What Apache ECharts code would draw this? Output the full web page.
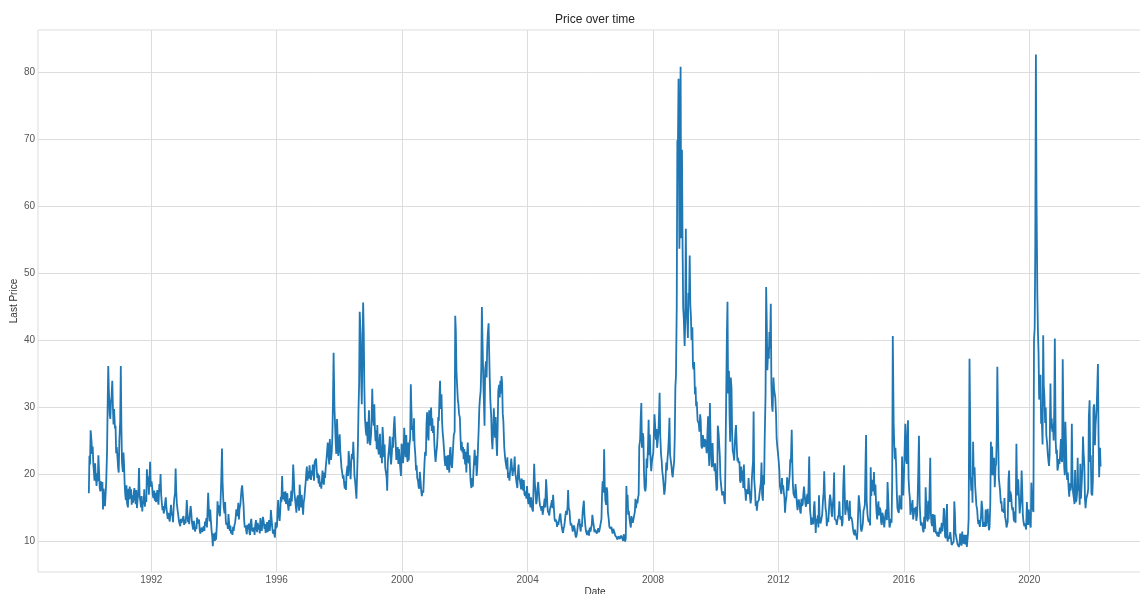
<!DOCTYPE html>
<html>
<head>
<meta charset="utf-8">
<title>Price over time</title>
<script src="https://cdn.jsdelivr.net/npm/echarts@6/dist/echarts.min.js"></script>
<style>
  html, body { margin: 0; padding: 0; background: #ffffff; }
  #chart { width: 1140px; height: 594px; }
</style>
</head>
<body>
<div id="chart"></div>
<script>
// Last price, four samples per month (days 4, 11, 18, 25), one array per year.
const px1990 = [17.2, 22.8, 21.5, 26.6, 25.0, 23.1, 24.2, 21.6, 20.4, 19.1, 21.7, 19.8, 18.3, 20.2, 19.0, 22.9,
                20.1, 18.0, 17.5, 19.0, 17.6, 18.9, 14.8, 17.9, 16.1, 15.3, 17.0, 18.8, 23.5, 30.4, 36.2, 32.5,
                29.0, 28.3, 30.8, 31.6, 34.0, 30.2, 27.5, 29.8, 26.9, 27.3, 23.2, 24.1, 22.5, 21.0, 20.3, 25.0];
const px1991 = [28.0, 36.2, 27.1, 21.8, 20.4, 23.3, 21.5, 18.6, 17.0, 16.2, 18.4, 15.7, 15.1, 17.9, 16.3, 18.2,
                16.4, 17.8, 15.5, 16.9, 15.8, 17.3, 18.0, 16.5, 15.6, 17.7, 15.0, 16.2, 17.5, 21.0, 16.9, 16.2,
                15.1, 16.8, 14.5, 16.0, 15.6, 17.8, 15.2, 16.4, 15.9, 20.8, 18.6, 19.7, 17.0, 19.5, 21.9, 18.2];
const px1992 = [19.0, 18.2, 17.0, 16.5, 17.6, 16.1, 17.3, 15.9, 16.8, 17.7, 16.2, 15.5, 18.6, 17.4, 20.1, 17.0,
                15.6, 14.7, 15.3, 14.2, 14.8, 15.9, 16.6, 15.2, 14.1, 13.4, 14.3, 13.5, 13.0, 14.4, 15.5, 14.2,
                13.8, 12.9, 15.1, 16.4, 17.2, 20.9, 17.6, 15.7, 14.6, 13.9, 13.1, 12.7, 12.3, 13.4, 12.8, 12.6];
const px1993 = [12.9, 13.8, 12.5, 13.3, 12.7, 14.0, 16.2, 14.5, 12.9, 13.7, 12.6, 14.1, 15.3, 14.4, 13.0, 12.4,
                11.8, 13.1, 12.6, 11.5, 12.2, 11.9, 13.6, 12.7, 12.5, 13.3, 11.8, 11.2, 11.0, 12.1, 11.4, 11.9,
                12.3, 11.6, 13.0, 12.4, 13.5, 12.1, 11.9, 17.3, 14.2, 13.0, 14.8, 13.2, 11.6, 10.8, 9.3, 11.2];
const px1994 = [11.0, 10.1, 11.4, 10.3, 12.7, 16.0, 14.3, 15.4, 14.1, 13.8, 15.9, 18.6, 23.9, 18.8, 16.5, 15.0,
                14.2, 15.9, 13.1, 12.5, 12.8, 11.9, 14.1, 12.9, 11.6, 12.4, 11.2, 11.7, 11.0, 12.2, 11.6, 12.3,
                12.9, 13.7, 14.8, 13.8, 14.5, 15.8, 13.3, 14.9, 15.5, 16.8, 17.9, 18.4, 16.7, 15.4, 13.2, 12.1];
const px1995 = [12.4, 11.6, 11.1, 12.5, 11.8, 12.7, 11.3, 11.0, 12.9, 13.4, 12.0, 11.5, 11.6, 12.1, 11.0, 12.3,
                13.2, 12.0, 11.4, 12.8, 11.8, 12.5, 11.2, 13.5, 12.1, 11.6, 12.9, 13.7, 12.8, 11.9, 12.6, 11.3,
                11.8, 12.9, 11.4, 12.5, 13.2, 11.6, 12.4, 14.7, 13.1, 12.0, 11.2, 11.8, 11.1, 10.6, 12.9, 12.0];
const px1996 = [12.3, 14.8, 16.2, 14.0, 13.1, 14.5, 16.7, 15.9, 19.8, 17.0, 16.3, 17.4, 16.0, 17.5, 15.6, 16.9,
                17.2, 15.4, 14.6, 15.8, 16.5, 15.3, 17.6, 16.0, 18.2, 21.5, 19.8, 17.4, 16.1, 15.2, 14.3, 16.4,
                16.9, 15.5, 14.6, 18.5, 16.2, 15.1, 17.0, 15.8, 14.0, 15.9, 16.4, 17.6, 18.9, 20.3, 21.2, 19.1];
const px1997 = [20.5, 19.4, 21.4, 20.1, 19.2, 20.6, 19.9, 21.5, 20.3, 19.1, 21.8, 22.1, 22.4, 20.8, 19.5, 20.2,
                18.7, 19.9, 18.2, 18.9, 17.9, 19.2, 20.6, 19.1, 18.5, 20.3, 19.5, 21.0, 22.4, 23.6, 24.8, 23.1,
                21.5, 25.3, 23.0, 22.2, 23.5, 25.9, 31.2, 38.2, 30.0, 27.5, 24.9, 23.1, 28.3, 25.6, 22.8, 24.0];
const px1998 = [26.0, 23.5, 22.3, 21.0, 20.1, 19.4, 19.9, 18.6, 17.9, 19.0, 17.7, 20.2, 21.3, 19.8, 23.5, 22.4,
                20.6, 19.3, 21.8, 23.1, 22.3, 24.9, 22.6, 19.8, 18.8, 17.6, 16.4, 19.7, 24.3, 29.8, 33.5, 44.3,
                41.0, 34.6, 30.5, 37.2, 45.7, 41.3, 33.0, 28.4, 26.5, 25.8, 27.9, 24.6, 27.2, 29.6, 25.1, 24.4];
const px1999 = [26.0, 28.5, 32.8, 29.0, 27.3, 30.5, 26.8, 25.0, 26.6, 23.8, 27.4, 24.2, 23.0, 24.8, 26.1, 22.5,
                24.3, 21.7, 27.1, 25.6, 22.6, 24.5, 21.0, 20.4, 19.6, 17.6, 21.8, 22.9, 24.3, 25.7, 22.8, 21.5,
                23.4, 25.6, 24.0, 26.8, 28.7, 26.5, 24.6, 22.2, 22.8, 24.1, 21.6, 23.8, 22.0, 20.9, 19.8, 24.6];
const px2000 = [24.2, 21.7, 23.0, 27.0, 24.0, 22.6, 25.9, 23.1, 21.9, 24.8, 22.1, 24.3, 25.5, 33.5, 29.8, 26.7,
                27.2, 25.0, 28.4, 24.5, 22.7, 20.6, 21.4, 19.5, 19.1, 18.2, 17.9, 20.4, 18.9, 17.5, 16.8, 17.6,
                17.3, 19.6, 21.8, 23.4, 22.8, 27.5, 29.3, 26.1, 25.1, 29.6, 27.3, 28.5, 30.0, 26.5, 28.4, 26.2];
const px2001 = [27.3, 24.6, 23.0, 21.9, 23.4, 24.2, 26.0, 28.6, 28.0, 31.4, 34.0, 29.8, 32.0, 27.9, 26.2, 25.3,
                23.6, 22.1, 21.3, 22.8, 21.4, 20.7, 22.9, 21.6, 20.3, 23.5, 24.1, 21.8, 21.0, 22.4, 24.3, 25.9,
                26.4, 43.7, 41.4, 35.5, 33.0, 31.2, 30.5, 29.1, 28.5, 25.6, 23.6, 24.9, 23.3, 24.1, 22.3, 23.8];
const px2002 = [21.5, 23.4, 20.3, 22.6, 24.8, 22.0, 21.7, 22.9, 20.1, 18.6, 18.0, 19.5, 18.2, 20.5, 22.0, 23.7,
                21.4, 22.8, 19.8, 20.9, 24.5, 26.8, 29.9, 31.3, 32.5, 36.0, 45.0, 40.2, 33.8, 30.6, 27.3, 35.6,
                36.9, 34.5, 39.0, 41.0, 42.6, 38.2, 34.1, 31.0, 28.5, 25.2, 23.8, 26.1, 29.9, 27.3, 25.5, 28.6];
const px2003 = [24.6, 22.8, 27.3, 32.5, 33.4, 31.5, 34.0, 32.1, 34.7, 33.6, 29.1, 28.0, 24.2, 23.0, 22.1, 21.5,
                20.8, 22.6, 19.5, 20.3, 19.1, 20.4, 21.3, 22.4, 20.9, 19.8, 21.0, 20.5, 22.7, 20.1, 19.6, 18.8,
                18.0, 20.3, 21.5, 19.6, 19.1, 18.5, 17.8, 19.4, 18.3, 17.6, 19.2, 17.1, 16.8, 17.5, 16.4, 18.3];
const px2004 = [16.3, 15.6, 17.2, 16.0, 15.1, 16.6, 15.4, 14.8, 14.5, 18.4, 21.6, 19.0, 17.0, 15.6, 16.1, 17.8,
                18.9, 17.5, 16.2, 15.4, 15.0, 14.6, 15.3, 14.0, 14.8, 15.6, 16.4, 15.1, 19.3, 17.8, 15.6, 14.5,
                14.2, 13.9, 14.8, 15.2, 15.6, 16.2, 15.0, 17.0, 14.8, 13.4, 13.0, 13.3, 12.9, 12.2, 13.0, 12.5];
const px2005 = [13.3, 13.9, 14.2, 13.0, 12.1, 11.6, 11.3, 12.0, 12.3, 13.1, 14.0, 14.6, 14.0, 15.2, 17.7, 15.0,
                14.6, 13.2, 12.4, 12.7, 12.1, 11.5, 12.0, 12.4, 11.9, 11.0, 10.6, 10.9, 11.8, 12.6, 12.9, 13.4,
                12.2, 11.5, 12.6, 12.2, 14.4, 15.3, 16.1, 14.0, 12.4, 11.6, 11.8, 11.0, 11.4, 11.7, 10.9, 12.1];
const px2006 = [11.5, 12.1, 12.5, 14.0, 12.9, 12.3, 11.4, 11.8, 11.6, 11.9, 11.2, 11.4, 12.0, 11.4, 11.7, 11.5,
                11.8, 13.4, 17.2, 19.0, 17.3, 23.8, 18.4, 16.2, 15.5, 18.1, 17.5, 14.4, 13.3, 12.2, 12.1, 11.9,
                12.2, 11.6, 11.2, 11.9, 11.8, 11.3, 10.9, 11.0, 10.6, 10.3, 10.2, 10.8, 10.7, 10.4, 10.2, 10.9];
const px2007 = [11.0, 10.4, 10.1, 11.1, 10.6, 10.0, 10.5, 18.3, 15.7, 17.0, 14.0, 14.6, 13.2, 12.6, 12.1, 13.8,
                13.1, 12.8, 13.0, 12.9, 14.5, 16.4, 15.0, 16.2, 15.7, 16.6, 17.0, 24.2, 25.2, 28.5, 30.7, 24.0,
                26.2, 25.5, 20.4, 18.0, 17.5, 18.4, 22.4, 21.0, 24.3, 28.2, 22.9, 26.0, 22.2, 20.5, 21.7, 22.5];
const px2008 = [23.2, 26.0, 29.0, 27.5, 25.2, 26.8, 24.0, 25.0, 26.3, 28.8, 32.2, 26.0, 23.0, 22.1, 20.5, 19.8,
                18.4, 17.0, 17.6, 18.9, 21.8, 20.6, 22.4, 23.4, 25.6, 28.5, 23.0, 22.9, 21.2, 20.1, 19.6, 20.7,
                22.0, 25.7, 33.1, 34.7, 45.1, 69.9, 69.3, 79.1, 53.7, 66.3, 80.9, 55.3, 68.5, 54.3, 44.9, 43.4];
const px2009 = [39.2, 42.8, 56.7, 44.8, 42.9, 40.4, 47.1, 46.3, 52.7, 45.4, 43.7, 40.1, 42.0, 36.2, 35.7, 36.8,
                32.0, 33.1, 30.2, 30.9, 28.1, 28.2, 27.6, 26.4, 29.0, 27.9, 24.3, 23.9, 25.9, 25.7, 24.1, 25.3,
                25.0, 24.2, 23.2, 25.6, 28.7, 23.1, 21.3, 30.7, 24.2, 22.3, 21.1, 24.7, 21.3, 21.6, 20.5, 21.7];
const px2010 = [19.2, 17.6, 18.0, 27.3, 26.1, 26.0, 22.7, 19.5, 18.5, 17.6, 16.9, 17.5, 17.2, 16.1, 15.6, 22.8,
                32.8, 40.9, 45.8, 32.1, 35.5, 28.8, 24.9, 34.5, 32.9, 26.1, 23.5, 23.2, 22.1, 24.5, 26.4, 27.4,
                23.8, 22.0, 22.5, 21.7, 22.0, 19.1, 18.8, 21.2, 19.1, 20.6, 18.0, 21.5, 18.0, 17.6, 16.1, 17.8];
const px2011 = [17.6, 17.1, 19.5, 18.0, 16.7, 15.7, 16.4, 19.2, 20.7, 21.9, 29.4, 19.3, 17.5, 15.3, 16.0, 14.6,
                15.9, 15.8, 16.2, 17.1, 18.1, 18.9, 21.8, 17.0, 16.1, 19.9, 18.5, 25.3, 32.0, 48.0, 42.7, 35.6,
                39.0, 37.3, 41.3, 38.8, 45.5, 33.4, 30.2, 29.4, 34.5, 32.8, 33.0, 31.5, 29.0, 25.4, 24.3, 23.4];
const px2012 = [22.0, 20.7, 18.3, 18.5, 17.1, 19.5, 17.8, 18.4, 17.3, 16.6, 14.3, 15.8, 16.7, 19.6, 18.5, 17.6,
                17.8, 19.9, 22.3, 21.8, 26.7, 21.7, 18.4, 17.1, 16.8, 16.5, 18.6, 17.5, 15.6, 14.7, 14.5, 16.3,
                15.5, 14.5, 14.2, 16.4, 15.3, 15.6, 17.1, 18.2, 18.2, 15.6, 15.2, 16.5, 17.1, 15.6, 18.5, 22.7];
const px2013 = [14.7, 13.8, 12.5, 13.6, 12.9, 12.6, 15.2, 16.0, 13.7, 11.3, 13.4, 12.7, 13.9, 12.1, 16.9, 13.6,
                12.7, 13.0, 13.5, 14.0, 16.3, 17.3, 20.5, 17.0, 14.9, 14.4, 12.3, 13.5, 12.9, 14.4, 16.1, 17.0,
                16.0, 14.2, 13.7, 15.4, 16.7, 20.3, 13.4, 13.2, 13.1, 12.5, 12.7, 13.7, 14.0, 16.0, 13.8, 13.3];
const px2014 = [13.8, 12.3, 12.9, 18.1, 21.4, 17.4, 14.0, 14.0, 14.1, 16.2, 15.0, 14.4, 13.1, 16.1, 13.4, 13.7,
                13.4, 12.9, 12.0, 11.4, 11.0, 11.8, 10.9, 11.2, 10.3, 11.8, 12.0, 16.9, 16.7, 14.3, 12.0, 11.5,
                12.1, 12.8, 14.6, 14.9, 15.5, 21.2, 25.9, 16.1, 14.0, 13.3, 12.9, 13.3, 12.4, 21.1, 16.8, 19.2];
const px2015 = [19.2, 17.5, 20.4, 16.9, 18.5, 15.8, 14.2, 13.3, 15.2, 16.0, 13.9, 15.1, 14.7, 12.9, 12.5, 14.3,
                13.8, 12.9, 12.1, 13.3, 14.5, 14.8, 13.2, 18.9, 16.1, 13.7, 12.1, 12.5, 13.4, 12.8, 19.1, 40.7,
                27.8, 24.4, 22.3, 24.0, 20.9, 17.2, 15.0, 14.6, 14.3, 16.9, 15.5, 15.1, 14.8, 22.7, 18.9, 16.9];
const px2016 = [20.7, 24.4, 27.6, 22.4, 21.6, 26.0, 28.1, 19.4, 17.4, 16.5, 14.0, 13.8, 14.1, 16.2, 13.3, 14.0,
                15.0, 14.4, 15.2, 13.1, 14.0, 17.0, 20.9, 25.8, 15.6, 13.5, 12.4, 12.9, 12.4, 11.7, 11.4, 13.7,
                11.9, 18.1, 15.5, 13.6, 13.0, 16.1, 13.3, 16.2, 22.5, 14.2, 12.8, 12.3, 14.1, 12.6, 11.4, 14.0];
const px2017 = [11.9, 11.2, 11.5, 10.8, 11.4, 10.7, 11.5, 12.1, 11.2, 11.3, 12.8, 11.5, 12.9, 15.0, 14.6, 10.8,
                10.5, 10.4, 15.6, 10.0, 10.7, 10.4, 10.9, 11.4, 11.2, 9.5, 9.4, 9.6, 10.0, 16.0, 14.3, 11.3,
                10.6, 10.5, 9.6, 9.7, 9.2, 9.6, 11.2, 10.0, 9.4, 11.5, 10.1, 9.7, 11.0, 9.6, 9.9, 11.0];
const px2018 = [9.2, 10.2, 11.3, 13.5, 37.3, 29.1, 19.5, 17.6, 19.6, 15.8, 24.9, 19.9, 21.1, 18.3, 16.9, 15.4,
                14.8, 13.4, 12.6, 13.2, 12.2, 12.0, 13.8, 16.1, 14.9, 12.2, 12.9, 13.0, 12.2, 14.8, 12.3, 12.5,
                14.9, 13.2, 11.7, 12.1, 15.7, 24.9, 19.9, 24.2, 19.9, 20.5, 22.5, 18.1, 21.2, 21.6, 25.6, 36.1];
const px2019 = [25.5, 19.5, 18.6, 17.7, 15.7, 16.0, 14.5, 14.8, 14.6, 14.3, 16.5, 13.7, 13.0, 12.1, 12.2, 13.0,
                19.3, 20.6, 15.9, 17.5, 16.9, 15.3, 14.7, 15.1, 13.3, 13.0, 14.5, 12.8, 24.6, 18.0, 16.9, 19.3,
                16.3, 14.2, 15.3, 16.2, 20.6, 17.6, 13.9, 13.0, 12.3, 12.7, 12.8, 11.8, 15.9, 13.6, 12.5, 14.8];
const px2020 = [13.8, 12.5, 12.1, 18.8, 15.2, 15.0, 14.4, 40.1, 41.9, 54.5, 82.7, 61.6, 46.8, 41.2, 38.2, 31.2,
                33.1, 34.9, 27.6, 28.6, 24.5, 40.8, 33.3, 31.8, 27.7, 30.0, 25.8, 25.0, 23.0, 22.1, 21.3, 22.9,
                33.6, 26.9, 28.4, 26.4, 27.6, 25.1, 29.4, 40.3, 24.9, 23.1, 23.7, 20.6, 21.3, 22.3, 21.6, 22.8];
const px2021 = [25.3, 22.2, 21.9, 37.2, 25.6, 21.2, 19.9, 27.9, 24.7, 20.7, 19.2, 20.3, 17.9, 16.7, 18.7, 17.6,
                18.3, 27.6, 20.7, 17.4, 16.4, 15.6, 20.7, 15.9, 16.2, 17.2, 22.5, 17.6, 18.0, 15.5, 21.6, 16.4,
                16.4, 20.9, 25.7, 23.3, 21.3, 16.3, 15.0, 16.3, 16.4, 17.2, 17.9, 28.6, 31.1, 21.9, 22.9, 17.2];
const px2022 = [16.9, 19.2, 29.9, 30.5, 24.4, 27.4, 28.7, 30.3, 33.3, 36.5, 25.7, 19.6, 24.0, 21.2];

const years = [1990, 1991, 1992, 1993, 1994, 1995, 1996, 1997, 1998, 1999, 2000,
               2001, 2002, 2003, 2004, 2005, 2006, 2007, 2008, 2009, 2010, 2011,
               2012, 2013, 2014, 2015, 2016, 2017, 2018, 2019, 2020, 2021, 2022];
const yearly = [px1990, px1991, px1992, px1993, px1994, px1995, px1996, px1997, px1998, px1999, px2000,
                px2001, px2002, px2003, px2004, px2005, px2006, px2007, px2008, px2009, px2010, px2011,
                px2012, px2013, px2014, px2015, px2016, px2017, px2018, px2019, px2020, px2021, px2022];
const sampleDays = [4, 11, 18, 25];

const yearTicks = [1992, 1996, 2000, 2004, 2008, 2012, 2016, 2020];
const priceTicks = [10, 20, 30, 40, 50, 60, 70, 80];

// Calendar date -> fractional year, so the x axis is a plain value axis in years
function fractionalYear(yr, month, day) {
  const start = Date.UTC(yr, 0, 1);
  const end = Date.UTC(yr + 1, 0, 1);
  return yr + (Date.UTC(yr, month, day) - start) / (end - start);
}

const points = [];
years.forEach((yr, k) => {
  yearly[k].forEach((v, i) => {
    points.push([fractionalYear(yr, Math.floor(i / 4), sampleDays[i % 4]), v]);
  });
});

const FONT = '"Liberation Sans", Arial, sans-serif';
const GRID_COLOR = '#dddddd';

const chart = echarts.init(document.getElementById('chart'), null, { renderer: 'canvas' });
chart.setOption({
  animation: false,
  backgroundColor: '#ffffff',
  title: {
    text: 'Price over time',
    left: 595,
    top: 14,
    padding: 0,
    textAlign: 'center',
    textStyle: { fontFamily: FONT, fontSize: 12, fontWeight: 'normal', color: '#262626' }
  },
  grid: {
    left: 38,
    right: -12,
    top: 30,
    bottom: 22,
    outerBoundsMode: 'none',
    containLabel: false,
    show: true,
    borderColor: GRID_COLOR,
    borderWidth: 1,
    backgroundColor: 'transparent'
  },
  xAxis: {
    type: 'value',
    min: 1988.387,
    max: 2023.913,
    name: 'Date',
    nameLocation: 'middle',
    nameGap: 15,
    nameMoveOverlap: false,
    nameTextStyle: { fontFamily: FONT, fontSize: 10, color: '#333333' },
    axisLine: { show: false },
    axisTick: { show: false, customValues: yearTicks },
    axisLabel: {
      customValues: yearTicks,
      formatter: v => String(Math.round(v)),
      margin: 3,
      fontFamily: FONT,
      fontSize: 10,
      color: '#555555'
    },
    splitLine: { show: true, lineStyle: { color: GRID_COLOR, width: 1 } }
  },
  yAxis: {
    type: 'value',
    min: 5.46,
    max: 86.37,
    name: 'Last Price',
    nameLocation: 'middle',
    nameGap: 19,
    nameRotate: 90,
    nameMoveOverlap: false,
    nameTextStyle: { fontFamily: FONT, fontSize: 10, color: '#333333' },
    axisLine: { show: false },
    axisTick: { show: false, customValues: priceTicks },
    axisLabel: {
      customValues: priceTicks,
      margin: 3,
      fontFamily: FONT,
      fontSize: 10,
      color: '#555555'
    },
    splitLine: { show: true, lineStyle: { color: GRID_COLOR, width: 1 } }
  },
  series: [{
    type: 'line',
    data: points,
    showSymbol: false,
    symbol: 'none',
    sampling: null,
    silent: true,
    lineStyle: { color: '#1f77b4', width: 1.8 }
  }]
});
</script>
</body>
</html>
